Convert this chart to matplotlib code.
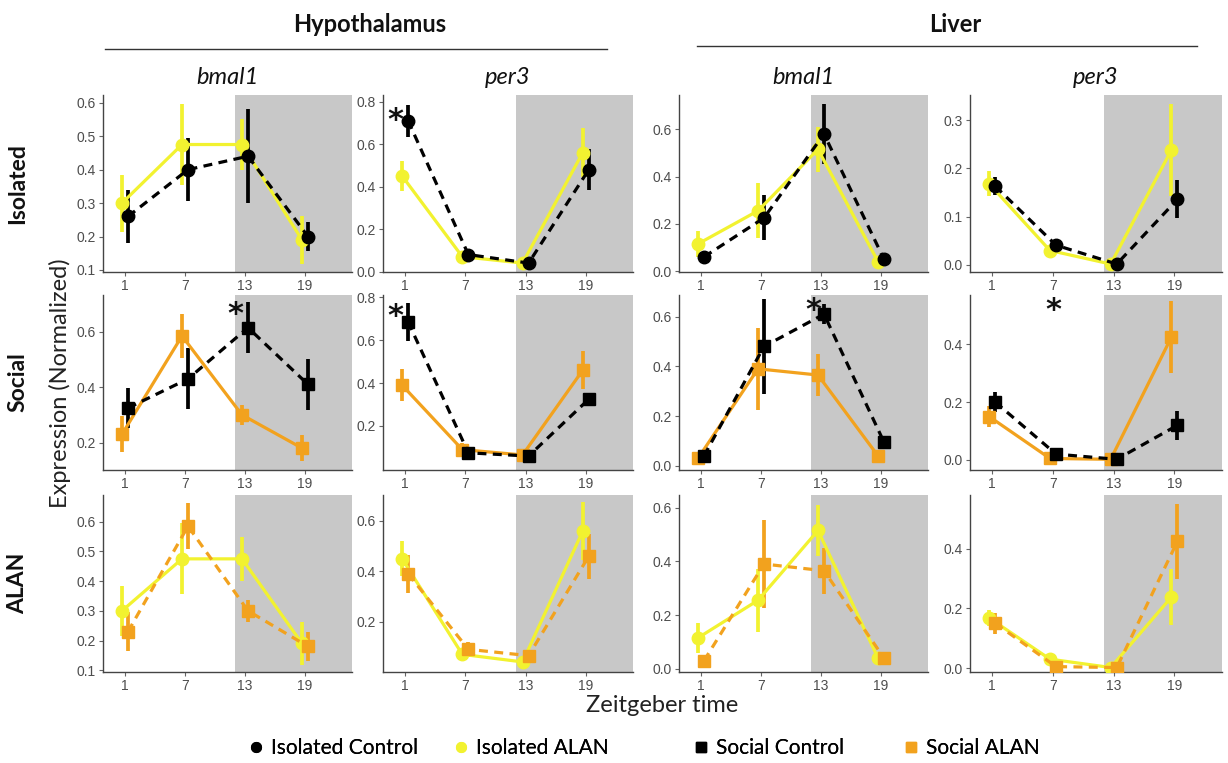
import matplotlib
matplotlib.use("Agg")
import matplotlib.pyplot as plt
from matplotlib.lines import Line2D

# Zeitgeber time points
zt = [1, 7, 13, 19]

# Hypothalamus bmal1 (mean, SE)
hyp_bmal1_iso_ctrl = [0.26, 0.40, 0.44, 0.20]
hyp_bmal1_iso_ctrl_se = [0.08, 0.095, 0.14, 0.043]
hyp_bmal1_iso_alan = [0.30, 0.475, 0.475, 0.19]
hyp_bmal1_iso_alan_se = [0.085, 0.12, 0.075, 0.072]
hyp_bmal1_soc_ctrl = [0.325, 0.43, 0.615, 0.41]
hyp_bmal1_soc_ctrl_se = [0.072, 0.11, 0.092, 0.093]
hyp_bmal1_soc_alan = [0.23, 0.585, 0.30, 0.18]
hyp_bmal1_soc_alan_se = [0.065, 0.078, 0.037, 0.048]

# Hypothalamus per3
hyp_per3_iso_ctrl = [0.71, 0.08, 0.04, 0.48]
hyp_per3_iso_ctrl_se = [0.075, 0.01, 0.008, 0.095]
hyp_per3_iso_alan = [0.45, 0.07, 0.04, 0.56]
hyp_per3_iso_alan_se = [0.07, 0.01, 0.008, 0.115]
hyp_per3_soc_ctrl = [0.685, 0.075, 0.06, 0.325]
hyp_per3_soc_ctrl_se = [0.09, 0.01, 0.01, 0.03]
hyp_per3_soc_alan = [0.39, 0.09, 0.065, 0.46]
hyp_per3_soc_alan_se = [0.075, 0.03, 0.01, 0.09]

# Liver bmal1
liv_bmal1_iso_ctrl = [0.06, 0.225, 0.58, 0.05]
liv_bmal1_iso_ctrl_se = [0.015, 0.095, 0.125, 0.01]
liv_bmal1_iso_alan = [0.115, 0.255, 0.515, 0.04]
liv_bmal1_iso_alan_se = [0.055, 0.117, 0.095, 0.01]
liv_bmal1_soc_ctrl = [0.04, 0.48, 0.61, 0.095]
liv_bmal1_soc_ctrl_se = [0.015, 0.19, 0.04, 0.01]
liv_bmal1_soc_alan = [0.03, 0.39, 0.365, 0.04]
liv_bmal1_soc_alan_se = [0.008, 0.165, 0.085, 0.008]

# Liver per3
liv_per3_iso_ctrl = [0.163, 0.041, 0.002, 0.136]
liv_per3_iso_ctrl_se = [0.019, 0.012, 0.002, 0.039]
liv_per3_iso_alan = [0.168, 0.03, 0.002, 0.238]
liv_per3_iso_alan_se = [0.026, 0.01, 0.002, 0.095]
liv_per3_soc_ctrl = [0.20, 0.02, 0.002, 0.12]
liv_per3_soc_ctrl_se = [0.035, 0.008, 0.002, 0.05]
liv_per3_soc_alan = [0.15, 0.005, 0.002, 0.425]
liv_per3_soc_alan_se = [0.035, 0.005, 0.002, 0.125]

row_labels = ["Isolated", "Social", "ALAN"]
gene_labels = ["bmal1", "per3", "bmal1", "per3"]
legend_labels = ["Isolated Control", "Isolated ALAN", "Social Control", "Social ALAN"]

# significance marks: (row, col, zt, y)
stars = [(0, 1, 0.0, 0.757), (1, 0, 12.0, 0.697), (1, 1, 0.0, 0.753),
         (1, 2, 12.2, 0.665), (1, 3, 7.0, 0.55)]

W, H = 1228, 763
YELLOW = "#F2F230"
ORANGE = "#F2A21E"
GREY = "#C8C8C8"

# styles per group: colour, marker, ms
sty = {
    "iso_ctrl": ("black", "o", 9),
    "iso_alan": (YELLOW, "o", 9),
    "soc_ctrl": ("black", "s", 8),
    "soc_alan": (ORANGE, "s", 8),
}

g = globals()
tissues = ["hyp_bmal1", "hyp_per3", "liv_bmal1", "liv_per3"]
# series drawn in each row: (group, line style, dodge)
rows = [
    [("iso_alan", "-", -0.3), ("iso_ctrl", "--", 0.3)],
    [("soc_alan", "-", -0.3), ("soc_ctrl", "--", 0.3)],
    [("iso_alan", "-", -0.3), ("soc_alan", "--", 0.3)],
]

ylims = [
    [(0.094, 0.623), (-0.002, 0.831), (-0.004, 0.745), (-0.0145, 0.352)],
    [(0.101, 0.733), (-0.005, 0.81), (-0.017, 0.687), (-0.035, 0.571)],
    [(0.094, 0.69), (0.0, 0.703), (-0.012, 0.647), (-0.013, 0.58)],
]
yticks = [
    [[0.1, 0.2, 0.3, 0.4, 0.5, 0.6], [0.0, 0.2, 0.4, 0.6, 0.8], [0.0, 0.2, 0.4, 0.6], [0.0, 0.1, 0.2, 0.3]],
    [[0.2, 0.4, 0.6], [0.2, 0.4, 0.6, 0.8], [0.0, 0.2, 0.4, 0.6], [0.0, 0.2, 0.4]],
    [[0.1, 0.2, 0.3, 0.4, 0.5, 0.6], [0.2, 0.4, 0.6], [0.0, 0.2, 0.4, 0.6], [0.0, 0.2, 0.4]],
]

col_l = [103, 383, 679, 970]
col_r = [352, 633, 928, 1222]
row_t = [95, 295, 495]
row_b = [272, 470, 672]

plt.rcParams["font.family"] = ["Lato", "DejaVu Sans"]
fig = plt.figure(figsize=(W / 100, H / 100), dpi=100)

tick_font = ["Liberation Sans Narrow", "Liberation Sans", "DejaVu Sans"]

for r in range(3):
    for c in range(4):
        ax = fig.add_axes([col_l[c] / W, 1 - row_b[r] / H,
                           (col_r[c] - col_l[c]) / W, (row_b[r] - row_t[r]) / H])
        ax.axvspan(12, 24, color=GREY, zorder=0, lw=0)
        for key, ls, dx in rows[r]:
            m = g[tissues[c] + "_" + key]
            se = g[tissues[c] + "_" + key + "_se"]
            col, mk, ms = sty[key]
            x = [t + dx for t in zt]
            ax.errorbar(x, m, yerr=se, color=col, fmt="none", elinewidth=2.7, zorder=3)
            line, = ax.plot(x, m, color=col, lw=2.3, ls=ls, marker=mk, ms=ms, zorder=4)
            if ls == "--":
                line.set_dashes((2.8, 2.0))
        ax.set_xlim(-1.2, 23.7)
        ax.set_ylim(*ylims[r][c])
        ax.set_xticks(zt)
        ax.set_yticks(yticks[r][c])
        ax.set_yticklabels(["%.1f" % v for v in yticks[r][c]])
        for s in ["top", "right"]:
            ax.spines[s].set_visible(False)
        for s in ["left", "bottom"]:
            ax.spines[s].set_color("#444444")
            ax.spines[s].set_linewidth(1.0)
        ax.tick_params(length=3, width=0.8, color="#666666", labelcolor="#4D4D4D",
                       labelsize=10, pad=2)
        for lab in ax.get_xticklabels() + ax.get_yticklabels():
            lab.set_family(tick_font)
        for (sr, sc, sx, sy) in stars:
            if sr == r and sc == c:
                ax.annotate("*", (sx, sy), xytext=(0, -7), textcoords="offset points",
                            fontsize=22, fontweight="bold", ha="center", va="center",
                            family="DejaVu Sans", color="#111111", zorder=6)

# row labels
for r, lab in enumerate(row_labels):
    yc = (row_t[r] + row_b[r]) / 2
    fig.text(18 / W, 1 - yc / H, lab, rotation=90, ha="center", va="center",
             fontsize=16.5, fontweight="bold", color="#111111")

# gene labels
for c, lab in enumerate(gene_labels):
    xc = (col_l[c] + col_r[c]) / 2
    fig.text(xc / W, 1 - 78 / H, lab, ha="center", va="center",
             fontsize=17, style="italic", color="#111111")

# tissue headers
fig.text(370 / W, 1 - 25 / H, "Hypothalamus", ha="center", va="center",
         fontsize=17, fontweight="bold", color="#111111")
fig.text(955 / W, 1 - 25 / H, "Liver", ha="center", va="center",
         fontsize=17, fontweight="bold", color="#111111")
fig.add_artist(Line2D([105 / W, 607 / W], [1 - 49 / H, 1 - 49 / H],
                      transform=fig.transFigure, color="#333333", lw=1))
fig.add_artist(Line2D([697 / W, 1197 / W], [1 - 46 / H, 1 - 46 / H],
                      transform=fig.transFigure, color="#333333", lw=1))

fig.text(60 / W, 1 - 383 / H, "Expression (Normalized)", rotation=90,
         ha="center", va="center", fontsize=17, color="#222222")
fig.text(662 / W, 1 - 705 / H, "Zeitgeber time", ha="center", va="center",
         fontsize=17, color="#222222")

handles = [
    Line2D([], [], ls="none", marker="o", color="black", ms=7),
    Line2D([], [], ls="none", marker="o", color=YELLOW, ms=7),
    Line2D([], [], ls="none", marker="s", color="black", ms=7),
    Line2D([], [], ls="none", marker="s", color=ORANGE, ms=7),
]
leg_x = [248, 453, 693, 903]
for h, lab, lx in zip(handles, legend_labels, leg_x):
    lg = fig.legend([h], [lab], loc="center left",
                    bbox_to_anchor=(lx / W, 1 - 748 / H), frameon=False,
                    fontsize=15, handlelength=0.8, handletextpad=0.3,
                    borderpad=0, borderaxespad=0)
    fig.add_artist(lg)

fig.savefig("out.png", dpi=100)
